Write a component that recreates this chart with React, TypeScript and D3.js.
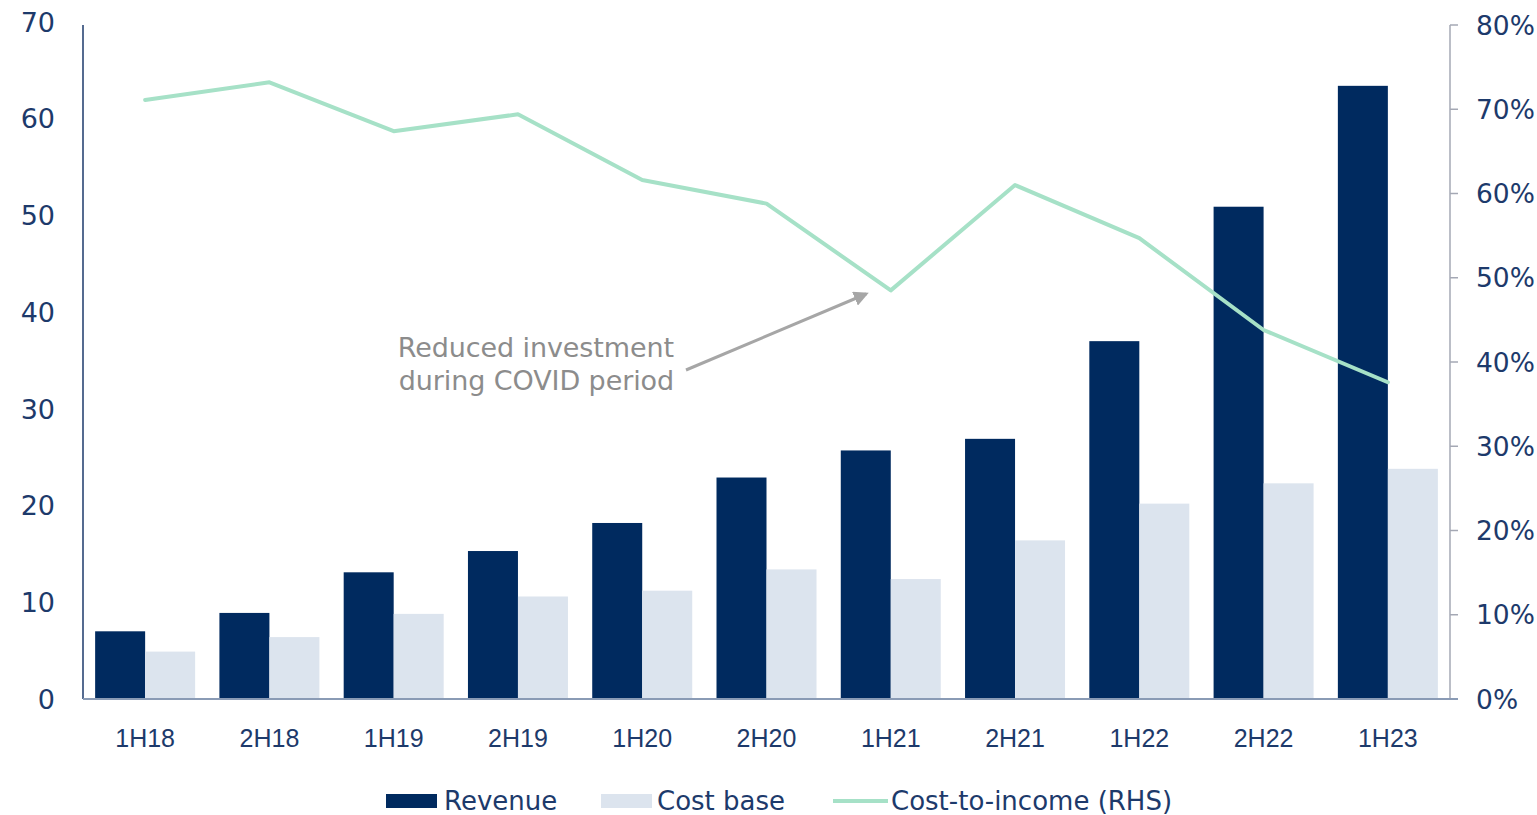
import React from "react";
import * as d3 from "d3";

const categories = ["1H18", "2H18", "1H19", "2H19", "1H20", "2H20", "1H21", "2H21", "1H22", "2H22", "1H23"];
const revenue = [7.0, 8.9, 13.1, 15.3, 18.2, 22.9, 25.7, 26.9, 37.0, 50.9, 63.4];
const costBase = [4.9, 6.4, 8.8, 10.6, 11.2, 13.4, 12.4, 16.4, 20.2, 22.3, 23.8];
const costToIncome = [71.1, 73.2, 67.4, 69.4, 61.6, 58.8, 48.5, 61.0, 54.7, 43.8, 37.6];
const leftTicks = [0, 10, 20, 30, 40, 50, 60, 70];
const rightTicks = [0, 10, 20, 30, 40, 50, 60, 70, 80];
const annotationLines = ["Reduced investment", "during COVID period"];

const W = 1537;
const H = 815;
const NAVY = "#002a5f";
const COST = "#dce4ee";
const LINE = "#a6e1c7";
const TEXT = "#1d3a6b";
const FONT = "'DejaVu Sans', 'Noto Sans', sans-serif";
const XFONT = "'Liberation Sans', Arial, sans-serif";

export default function App() {
  const full = d3.scaleBand<string>().domain(categories).range([83, 1450]).padding(0);
  const yL = d3.scaleLinear().domain([0, 70]).range([699, 22]);
  const yR = d3.scaleLinear().domain([0, 80]).range([699, 25]);
  const barW = 50;

  const line = d3
    .line<number>()
    .x((_, i) => (full(categories[i]) as number) + full.bandwidth() / 2)
    .y((d) => yR(d));

  const arrowStart = { x: 686, y: 370 };
  const arrowEnd = { x: 866, y: 294 };

  return (
    <svg width={W} height={H} style={{ display: "block", position: "absolute", left: 0, top: 0 }} fontFamily={FONT}>
      <defs>
        <marker id="arr" viewBox="0 0 10 10" refX="8" refY="5" markerWidth="5" markerHeight="5" orient="auto">
          <path d="M0,0 L10,5 L0,10 Z" fill="#a6a6a6" />
        </marker>
      </defs>
      {categories.map((c, i) => {
        const bx = (full(c) as number) + (full.bandwidth() - 2 * barW) / 2;
        return (
          <g key={c}>
            <rect x={bx} y={yL(revenue[i])} width={barW} height={yL(0) - yL(revenue[i])} fill={NAVY} />
            <rect x={bx + barW} y={yL(costBase[i])} width={barW} height={yL(0) - yL(costBase[i])} fill={COST} />
          </g>
        );
      })}
      <line x1={83} x2={83} y1={25} y2={699} stroke={TEXT} strokeWidth={1.5} />
      <line x1={1450} x2={1450} y1={25} y2={699} stroke="#a4a8b4" strokeWidth={1.5} />
      {rightTicks.map((t) => (
        <line key={t} x1={1450} x2={1458} y1={yR(t)} y2={yR(t)} stroke="#a4a8b4" strokeWidth={1.5} />
      ))}
      <line x1={83} x2={1458} y1={699} y2={699} stroke="#8a9bb5" strokeWidth={2} />
      {leftTicks.map((t) => (
        <text key={t} x={55} y={yL(t)} dy="0.36em" textAnchor="end" fontSize={27} fill={TEXT}>
          {t}
        </text>
      ))}
      {rightTicks.map((t) => (
        <text key={t} x={1476} y={yR(t)} dy="0.36em" textAnchor="start" fontSize={26.5} fill={TEXT}>
          {t}%
        </text>
      ))}
      {categories.map((c) => (
        <text key={c} x={(full(c) as number) + full.bandwidth() / 2} y={738} dy="0.36em" textAnchor="middle" fontSize={25} fill={TEXT} fontFamily={XFONT}>
          {c}
        </text>
      ))}
      <path d={line(costToIncome) as string} fill="none" stroke={LINE} strokeWidth={4} strokeLinejoin="round" strokeLinecap="round" />
      {annotationLines.map((l, i) => (
        <text key={l} x={674} y={357 + i * 33} textAnchor="end" fontSize={27} fill="#8c8c8c" letterSpacing={-0.1}>
          {l}
        </text>
      ))}
      <line x1={arrowStart.x} y1={arrowStart.y} x2={arrowEnd.x} y2={arrowEnd.y} stroke="#a6a6a6" strokeWidth={3} markerEnd="url(#arr)" />
      <rect x={386} y={794} width={51} height={14} fill={NAVY} />
      <text x={444} y={801} dy="0.36em" fontSize={26} fill={TEXT}>Revenue</text>
      <rect x={601} y={794} width={51} height={14} fill={COST} />
      <text x={657} y={801} dy="0.36em" fontSize={26} fill={TEXT}>Cost base</text>
      <line x1={833} x2={888} y1={801} y2={801} stroke={LINE} strokeWidth={4} />
      <text x={891} y={801} dy="0.36em" fontSize={26} fill={TEXT}>Cost-to-income (RHS)</text>
    </svg>
  );
}
